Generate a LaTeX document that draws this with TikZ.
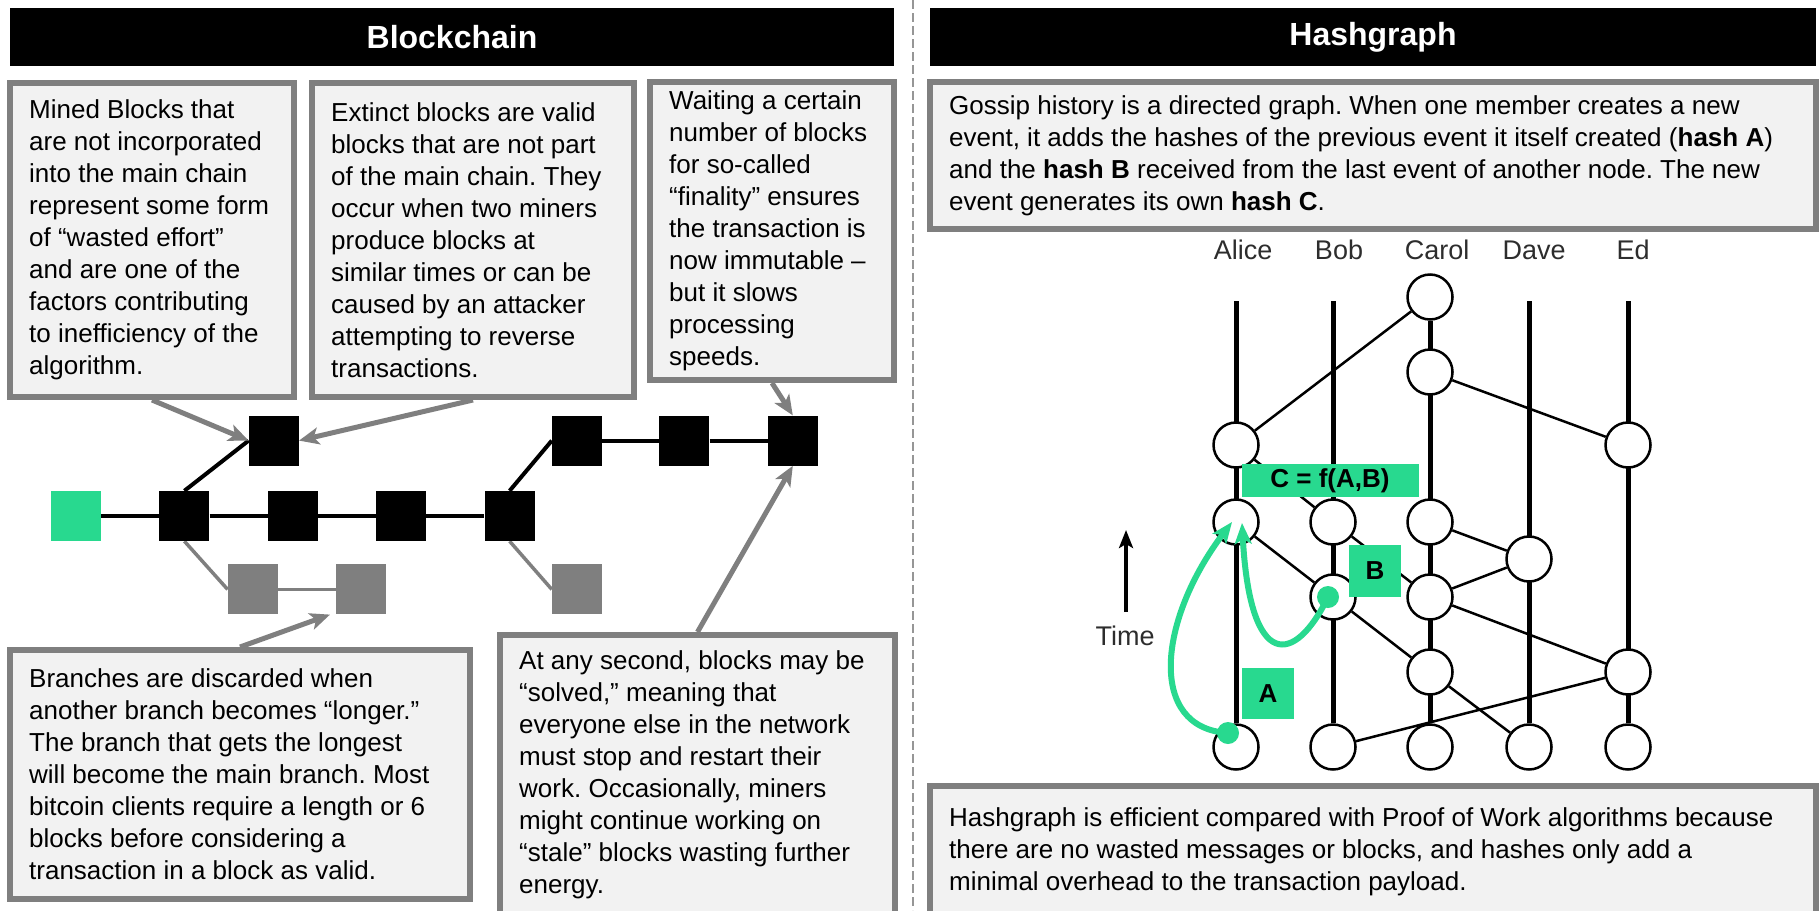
\documentclass[tikz,border=0pt]{standalone}
\usepackage{fontspec}
\setmainfont{Liberation Sans}
\usepackage{tikz}
\usetikzlibrary{arrows.meta}
\usetikzlibrary{positioning, backgrounds}
\frenchspacing

\definecolor{mint}{RGB}{40,217,143}
\definecolor{boxgray}{RGB}{127,127,127}
\definecolor{boxfill}{RGB}{242,242,242}
\definecolor{dashgray}{RGB}{150,150,150}
\definecolor{namegray}{RGB}{45,45,45}

\begin{document}
\begin{tikzpicture}[x=1pt, y=-1pt, >={Stealth[length=20pt, width=17pt, inset=5pt]}]
		\tikzstyle{head}=[rectangle, fill=black, text=white, inner sep=0pt, font=\fontsize{32}{38}\selectfont\bfseries]
		\tikzstyle{box}=[rectangle, draw=boxgray, line width=6pt, fill=boxfill, inner sep=0pt]
		\tikzstyle{txt}=[align=left, inner sep=0pt, font=\fontsize{26}{32}\selectfont]
		\tikzstyle{blk}=[rectangle, minimum size=50pt, inner sep=0pt, fill=black]
		\tikzstyle{old}=[blk, fill=boxgray]
		\tikzstyle{link}=[line width=4pt]
		\tikzstyle{oldlink}=[line width=3.5pt, draw=boxgray]
		\tikzstyle{callout}=[->, line width=5pt, draw=boxgray]
		\tikzstyle{ev}=[circle, minimum size=45pt, inner sep=0pt, draw=black, line width=2.5pt, fill=white]
		\tikzstyle{life}=[line width=5pt]
		\tikzstyle{gossip}=[line width=2.5pt]
		\tikzstyle{who}=[anchor=base, text=namegray, inner sep=0pt, font=\fontsize{27}{32}\selectfont]
		\tikzstyle{greentag}=[rectangle, fill=mint, inner sep=0pt, font=\fontsize{26}{31}\selectfont\bfseries]
		\tikzstyle{hashlink}=[draw=mint, line width=6pt, -{Stealth[length=21pt, width=17pt, inset=5pt]}]
		\useasboundingbox (0,0) rectangle (1819,910);
		% left half: blockchain
		\node[head, minimum width=884pt, minimum height=58pt] (bchead) at (452,37) {Blockchain};
		\node[box, minimum width=284pt, minimum height=314pt] (mined) at (152,240) {};
		\node[txt, right=22pt of mined.west] (minedtxt) {Mined Blocks that\\are not incorporated\\into the main chain\\represent some form\\of “wasted effort”\\and are one of the\\factors contributing\\to inefficiency of the\\algorithm.};
		\node[box, minimum width=322pt, minimum height=314pt] (extinct) at (473,240) {};
		\node[txt, right=22pt of extinct.west] (extincttxt) {Extinct blocks are valid\\blocks that are not part\\of the main chain. They\\occur when two miners\\produce blocks at\\similar times or can be\\caused by an attacker\\attempting to reverse\\transactions.};
		\node[box, minimum width=244pt, minimum height=298pt] (finality) at (772,231) {};
		\node[txt, right=22pt of finality.west] (finalitytxt) {Waiting a certain\\number of blocks\\for so-called\\“finality” ensures\\the transaction is\\now immutable –\\but it slows\\processing\\speeds.};
		\node[box, minimum width=460pt, minimum height=249pt] (branches) at (240,774.5) {};
		\node[txt, right=22pt of branches.west] (branchestxt) {Branches are discarded when\\another branch becomes “longer.”\\The branch that gets the longest\\will become the main branch. Most\\bitcoin clients require a length or 6\\blocks before considering a\\transaction in a block as valid.};
		\node[box, minimum width=395pt, minimum height=280pt] (stale) at (697.5,775) {};
		\node[txt, right=22pt of stale.west] (staletxt) {At any second, blocks may be\\“solved,” meaning that\\everyone else in the network\\must stop and restart their\\work. Occasionally, miners\\might continue working on\\“stale” blocks wasting further\\energy.};
		
		\node[blk, fill=mint] (gen) at (76,516) {};
		\node[blk] (m1) [right=58pt of gen] {};
		\node[blk] (m2) [right=58pt of m1] {};
		\node[blk] (m3) [right=58pt of m2] {};
		\node[blk] (m4) [right=58pt of m3] {};
		\node[blk] (ext) [above right=25pt and 39pt of m1] {};
		\node[blk] (t1) [above right=25pt and 17pt of m4] {};
		\node[blk] (t2) [right=57pt of t1] {};
		\node[blk] (t3) [right=58pt of t2] {};
		\node[old] (g1) [below right=23pt and 18pt of m1] {};
		\node[old] (g2) [right=58pt of g1] {};
		\node[old] (g3) [below right=23pt and 17pt of m4] {};
		\begin{scope}[on background layer]
		\path
		(gen) edge [link] (m1)
		(m1) edge [link] (m2)
		(m2) edge [link] (m3)
		(m3) edge [link] (m4)
		(m1.north) edge [link] (ext.west)
		(m4.north) edge [link] (t1.west)
		(t1) edge [link] (t2)
		(t2) edge [link] (t3)
		(m1.south) edge [oldlink] (g1.west)
		(g1) edge [oldlink] (g2)
		(m4.south) edge [oldlink] (g3.west)
		;
		\end{scope}
		\path
		(mined.south) edge [callout] (ext.west)
		(extinct.south) edge [callout] (ext.east)
		(finality.south) edge [callout] (t3.north)
		(stale.north) edge [callout] (t3.south)
		(branches.north) edge [callout] ([xshift=-6pt]g2.south west)
		;
		
		% divider
		\draw[dashgray, line width=2.5pt, dash pattern=on 9pt off 4pt] (913,0) -- (913,910);
		
		% right half: hashgraph
		\node[head, minimum width=886pt, minimum height=58pt] (hghead) at (1373,37) {Hashgraph};
		\node[box, minimum width=886pt, minimum height=147pt] (gossip) at (1373,155.5) {};
		\node[txt, right=22pt of gossip.west] (gossiptxt) {Gossip history is a directed graph. When one member creates a new\\event, it adds the hashes of the previous event it itself created ({\bfseries hash A})\\and the {\bfseries hash B} received from the last event of another node. The new\\event generates its own {\bfseries hash C}.};
		\node[box, minimum width=886pt, minimum height=132pt] (efficient) at (1373,852) {};
		\node[txt, right=22pt of efficient.west] (efficienttxt) {Hashgraph is efficient compared with Proof of Work algorithms because\\there are no wasted messages or blocks, and hashes only add a\\minimal overhead to the transaction payload.};
		
		\node[who] (alice) at (1243,259) {Alice};
		\node[who] (bob) at (1339,259) {Bob};
		\node[who] (carol) at (1437,259) {Carol};
		\node[who] (dave) at (1534,259) {Dave};
		\node[who] (ed) at (1633,259) {Ed};
		\node[who] (time) at (1125,645) {Time};
		\coordinate (tlow) at (1126,612);
		\coordinate (thigh) at (1126,530);
		\draw[line width=4pt, -{Stealth[length=18pt, width=14pt, inset=4pt]}] (tlow) -- (thigh);
		
		\node[ev] (c1) at (1430,297) {};
		\node[ev] (c2) at (1430,372) {};
		\node[ev] (a1) at (1236,445) {};
		\node[ev] (e1) at (1628,445) {};
		\node[ev] (a2) at (1236,522) {};
		\node[ev] (b1) at (1333,522) {};
		\node[ev] (c3) at (1430,522) {};
		\node[ev] (d1) at (1529,559) {};
		\node[ev] (b2) at (1333,597) {};
		\node[ev] (c4) at (1430,597) {};
		\node[ev] (c5) at (1430,672) {};
		\node[ev] (e2) at (1628,672) {};
		\node[ev] (a0) at (1236,747) {};
		\node[ev] (b0) at (1333,747) {};
		\node[ev] (c0) at (1430,747) {};
		\node[ev] (d0) at (1529,747) {};
		\node[ev] (e0) at (1628,747) {};
		\coordinate (atop) at (1236,301);
		\coordinate (btop) at (1333,301);
		\coordinate (dtop) at (1529,301);
		\coordinate (etop) at (1628,301);
		\begin{scope}[on background layer]
		\path
		(atop) edge [life] (a0)
		(btop) edge [life] (b0)
		(c1) edge [life] (c0)
		(dtop) edge [life] (d0)
		(etop) edge [life] (e0)
		(a1) edge [gossip] (c1)
		(c2) edge [gossip] (e1)
		(a1) edge [gossip] (b1)
		(a2) edge [gossip] (b2)
		(b1) edge [gossip] (c4)
		(c3) edge [gossip] (d1)
		(d1) edge [gossip] (c4)
		(c4) edge [gossip] (e2)
		(b2) edge [gossip] (c5)
		(c5) edge [gossip] (d0)
		(b0) edge [gossip] (e2)
		;
		\end{scope}
		
		\node[greentag, minimum width=177pt, minimum height=33pt] (cfab) at (1330,480.5) {C = f(A,B)};
		\node[greentag, minimum width=52pt, minimum height=52pt] (hb) at (1375,571) {B};
		\node[greentag, minimum width=52pt, minimum height=51pt] (ha) at (1268,693.5) {A};
		\coordinate (astart) at ([shift={(-8,-14)}]a0.center);
		\coordinate (bstart) at ([shift={(-5,0)}]b2.center);
		\coordinate (aend) at ([shift={(-4,0)}]a2.center);
		\coordinate (bend) at ([shift={(6,1)}]a2.center);
		\draw[hashlink] (astart) .. controls (1147,728) and (1158,620) .. (aend);
		\draw[hashlink] (bstart) .. controls (1295,665) and (1250,672) .. (bend);
		\fill[mint] (astart) circle (11pt);
		\fill[mint] (bstart) circle (11pt);
	\end{tikzpicture}
\end{document}
